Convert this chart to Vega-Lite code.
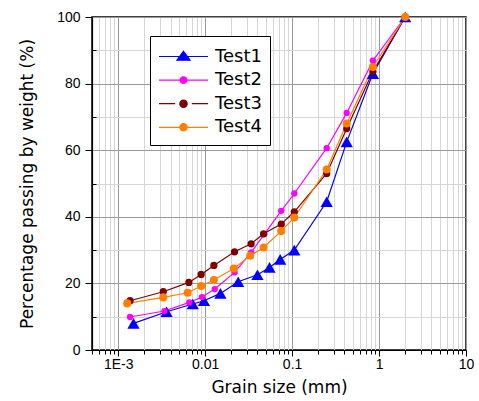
{
  "$schema": "https://vega.github.io/schema/vega-lite/v6.json",
  "width": 374,
  "height": 333,
  "autosize": {"type": "none"},
  "padding": {"left": 92, "top": 17, "right": 13, "bottom": 51},
  "background": "white",
  "config": {
    "view": {"stroke": "black", "strokeWidth": 1.5},
    "axis": {
      "domainColor": "black",
      "domainWidth": 1.2,
      "tickColor": "black",
      "tickWidth": 1,
      "labelColor": "black",
      "labelFont": "Liberation Sans",
      "labelFontSize": 14,
      "titleColor": "black",
      "titleFont": "DejaVu Sans",
      "titleFontSize": 17,
      "titleFontWeight": "normal",
      "gridWidth": 1,
      "gridOpacity": 1
    },
    "legend": {
      "title": null,
      "orient": "none",
      "legendX": 58,
      "legendY": 19,
      "padding": 8,
      "strokeColor": "black",
      "fillColor": "white",
      "labelFont": "DejaVu Sans",
      "labelFontSize": 18,
      "labelColor": "black",
      "labelOffset": 19,
      "symbolOffset": 13,
      "rowPadding": 1.6,
      "symbolSize": 529,
      "symbolOpacity": 1,
      "symbolStrokeWidth": 1.2
    }
  },
  "data": {
    "values": [
      {"series": "Test1", "grain": 0.0015, "pass": 8.0},
      {"series": "Test1", "grain": 0.0036, "pass": 11.5},
      {"series": "Test1", "grain": 0.0072, "pass": 13.8},
      {"series": "Test1", "grain": 0.0097, "pass": 14.8},
      {"series": "Test1", "grain": 0.015, "pass": 17.0},
      {"series": "Test1", "grain": 0.024, "pass": 20.5},
      {"series": "Test1", "grain": 0.040, "pass": 22.6},
      {"series": "Test1", "grain": 0.055, "pass": 24.8},
      {"series": "Test1", "grain": 0.073, "pass": 27.2},
      {"series": "Test1", "grain": 0.106, "pass": 30.0},
      {"series": "Test1", "grain": 0.25, "pass": 44.5},
      {"series": "Test1", "grain": 0.425, "pass": 62.5},
      {"series": "Test1", "grain": 0.85, "pass": 83.0},
      {"series": "Test1", "grain": 2.0, "pass": 100},
      {"series": "Test2", "grain": 0.00137, "pass": 9.9},
      {"series": "Test2", "grain": 0.0034, "pass": 11.7},
      {"series": "Test2", "grain": 0.0066, "pass": 14.3},
      {"series": "Test2", "grain": 0.0092, "pass": 15.9},
      {"series": "Test2", "grain": 0.0129, "pass": 18.3},
      {"series": "Test2", "grain": 0.0218, "pass": 23.3},
      {"series": "Test2", "grain": 0.0338, "pass": 29.3},
      {"series": "Test2", "grain": 0.048, "pass": 34.8},
      {"series": "Test2", "grain": 0.075, "pass": 41.8},
      {"series": "Test2", "grain": 0.106, "pass": 47.0},
      {"series": "Test2", "grain": 0.25, "pass": 60.6},
      {"series": "Test2", "grain": 0.425, "pass": 71.2},
      {"series": "Test2", "grain": 0.85, "pass": 86.9},
      {"series": "Test2", "grain": 2.0, "pass": 100},
      {"series": "Test3", "grain": 0.00137, "pass": 14.8},
      {"series": "Test3", "grain": 0.0033, "pass": 17.5},
      {"series": "Test3", "grain": 0.0065, "pass": 20.3},
      {"series": "Test3", "grain": 0.009, "pass": 22.7},
      {"series": "Test3", "grain": 0.0126, "pass": 25.4},
      {"series": "Test3", "grain": 0.0218, "pass": 29.5},
      {"series": "Test3", "grain": 0.0338, "pass": 31.9},
      {"series": "Test3", "grain": 0.047, "pass": 34.9},
      {"series": "Test3", "grain": 0.075, "pass": 37.8},
      {"series": "Test3", "grain": 0.106, "pass": 41.5},
      {"series": "Test3", "grain": 0.25, "pass": 53.0},
      {"series": "Test3", "grain": 0.425, "pass": 66.5},
      {"series": "Test3", "grain": 0.85, "pass": 83.6},
      {"series": "Test3", "grain": 2.0, "pass": 100},
      {"series": "Test4", "grain": 0.00127, "pass": 14.0},
      {"series": "Test4", "grain": 0.0033, "pass": 15.8},
      {"series": "Test4", "grain": 0.0063, "pass": 17.2},
      {"series": "Test4", "grain": 0.009, "pass": 19.2},
      {"series": "Test4", "grain": 0.0126, "pass": 21.0},
      {"series": "Test4", "grain": 0.0214, "pass": 24.5},
      {"series": "Test4", "grain": 0.033, "pass": 28.3},
      {"series": "Test4", "grain": 0.047, "pass": 30.8},
      {"series": "Test4", "grain": 0.075, "pass": 35.7},
      {"series": "Test4", "grain": 0.106, "pass": 39.8},
      {"series": "Test4", "grain": 0.25, "pass": 54.2},
      {"series": "Test4", "grain": 0.425, "pass": 68.0},
      {"series": "Test4", "grain": 0.85, "pass": 85.0},
      {"series": "Test4", "grain": 2.0, "pass": 100}
    ]
  },
  "encoding": {
    "x": {
      "field": "grain",
      "type": "quantitative",
      "title": "Grain size (mm)",
      "scale": {"type": "log", "domain": [0.0005, 10], "nice": false},
      "axis": {
        "values": [0.0005, 0.0006, 0.0007, 0.0008, 0.0009, 0.001, 0.002, 0.003, 0.004, 0.005, 0.006, 0.007, 0.008, 0.009, 0.01, 0.02, 0.03, 0.04, 0.05, 0.06, 0.07, 0.08, 0.09, 0.1, 0.2, 0.3, 0.4, 0.5, 0.6, 0.7, 0.8, 0.9, 1, 2, 3, 4, 5, 6, 7, 8, 9, 10],
        "labelExpr": "datum.value == 0.001 ? '1E-3' : datum.value == 0.01 ? '0.01' : datum.value == 0.1 ? '0.1' : datum.value == 1 ? '1' : datum.value == 10 ? '10' : ''",
        "labelOverlap": false,
        "labelFlush": false,
        "labelPadding": 1,
        "grid": true,
        "gridColor": {"condition": {"test": "indexof([0.001, 0.01, 0.1, 1, 10], datum.value) >= 0", "value": "#9a9a9a"}, "value": "#d6d6d6"},
        "tickSize": {"condition": {"test": "indexof([0.001, 0.01, 0.1, 1, 10], datum.value) >= 0", "value": 6}, "value": 4},
        "titlePadding": 8
      }
    },
    "y": {
      "field": "pass",
      "type": "quantitative",
      "title": "Percentage passing by weight (%)",
      "scale": {"domain": [0, 100], "nice": false},
      "axis": {
        "values": [0, 10, 20, 30, 40, 50, 60, 70, 80, 90, 100],
        "labelExpr": "datum.value % 20 == 0 ? datum.label : ''",
        "labelPadding": 5,
        "grid": true,
        "gridColor": {"condition": {"test": "datum.value % 20 == 0", "value": "#9a9a9a"}, "value": "#d6d6d6"},
        "tickSize": {"condition": {"test": "datum.value % 20 == 0", "value": 7}, "value": -4},
        "titlePadding": 20
      }
    },
    "color": {
      "field": "series",
      "type": "nominal",
      "scale": {"domain": ["Test1", "Test2", "Test3", "Test4"], "range": ["#0000FF", "#FF00FF", "#800000", "#FF8000"]},
      "legend": {
        "encode": {
          "symbols": {
            "update": {
              "fill": {"scale": "color", "field": "value"},
              "stroke": {"scale": "color", "field": "value"},
              "shape": {"scale": "shape", "field": "value"},
              "opacity": {"value": 1},
              "size": {"value": 529},
              "strokeWidth": {"value": 1.2}
            }
          }
        }
      }
    }
  },
  "layer": [
    {
      "mark": {"type": "line", "strokeWidth": 1.2}
    },
    {
      "transform": [{"filter": "datum.series == 'Test1'"}],
      "mark": {"type": "point", "shape": "triangle-up", "filled": true, "size": 150, "opacity": 1}
    },
    {
      "transform": [{"filter": "datum.series != 'Test1'"}],
      "mark": {"type": "point", "shape": "circle", "filled": true, "opacity": 1},
      "encoding": {
        "size": {
          "field": "series",
          "type": "nominal",
          "scale": {"domain": ["Test2", "Test3", "Test4"], "range": [40, 65, 65]},
          "legend": null
        }
      }
    },
    {
      "mark": {"type": "point", "filled": true, "opacity": 0, "size": 1},
      "encoding": {
        "shape": {
          "field": "series",
          "type": "nominal",
          "scale": {
            "domain": ["Test1", "Test2", "Test3", "Test4"],
            "range": [
              "M-2.13,0H2.13M0,-0.45L0.57,0.32L-0.57,0.32Z",
              "M-2.13,0H2.13M-0.29,0A0.29,0.29 0 1 0 0.29,0A0.29,0.29 0 1 0 -0.29,0Z",
              "M-2.13,0H-0.72M0.72,0H2.13M-0.32,0A0.32,0.32 0 1 0 0.32,0A0.32,0.32 0 1 0 -0.32,0Z",
              "M-2.13,0H2.13M-0.32,0A0.32,0.32 0 1 0 0.32,0A0.32,0.32 0 1 0 -0.32,0Z"
            ]
          }
        }
      }
    }
  ]
}
